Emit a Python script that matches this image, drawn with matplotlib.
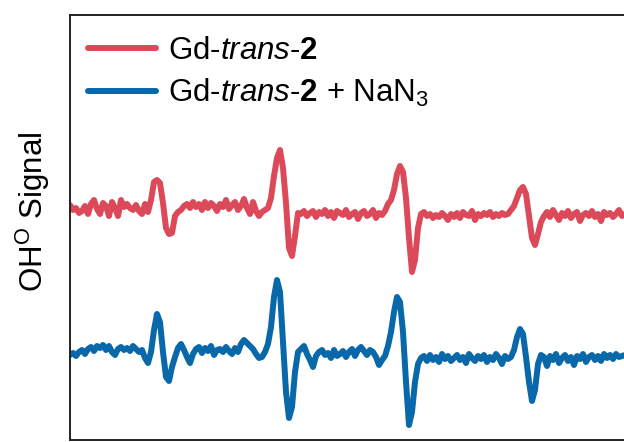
import numpy as np
import matplotlib
matplotlib.use("Agg")
import matplotlib.pyplot as plt

plt.rcParams['font.family'] = ['Liberation Sans', 'DejaVu Sans']
plt.rcParams['mathtext.fontset'] = 'custom'
plt.rcParams['mathtext.rm'] = 'Liberation Sans'
plt.rcParams['mathtext.it'] = 'Liberation Sans:italic'
plt.rcParams['mathtext.bf'] = 'Liberation Sans:bold'

# spin trap spectra, one sample every 3 field steps
field_start = 70
field_step = 3

gd_trans = [
    3, -2, 0, -5, -3, 2, -6, 4, 8, -1,
    -6, 5, 2, -8, 6, 0, -8, 8, 1, 4,
    0, -2, 3, -3, -6, 4, -4, 8, 26, 28,
    25, 5, -20, -26, -25, -8, -4, -2, 2, 4,
    0, 6, 1, 4, -2, 6, 0, 5, 2, -3,
    4, 1, 8, -1, 3, 6, -2, 2, 9, 0,
    -6, 6, -3, -8, -4, -2, 0, 10, 32, 50,
    58, 40, 5, -40, -48, -28, -5, -6, -3, -8,
    -5, -3, -9, -4, -6, -2, -8, -4, -10, -3,
    -5, -7, -2, -9, -6, -4, -11, -5, -3, -8,
    -6, -2, -10, -5, -7, -3, 4, 8, 18, 34,
    42, 36, 10, -30, -64, -52, -20, -6, -4, -8,
    -6, -10, -7, -9, -5, -8, -12, -6, -9, -5,
    -10, -4, -7, -8, -3, -12, -6, -8, -5, -7,
    -4, -9, -6, -8, -5, -7, -6, -2, 2, 10,
    18, 21, 14, -8, -30, -37, -26, -14, -8, -4,
    -9, -2, -7, -12, -5, -8, -3, -10, -6, -4,
    -13, -7, -5, -8, -3, -9, -6, -13, -4, -7,
    -5, -9, -6, -2, -8, -6,
]

gd_trans_nan3 = [
    -3, -1, -4, 0, 2, -2, 3, 5, 1, 6,
    4, 7, 2, 6, 0, -3, 3, 5, 2, 4,
    1, 6, 3, 0, 2, -6, -11, 0, 22, 38,
    30, 0, -25, -29, -15, -5, 4, 8, 2, -5,
    -11, -2, 3, 5, -1, 4, 1, 6, -3, 2,
    3, 0, 5, 1, -2, 4, 0, 8, 12, 9,
    6, 3, -2, -6, -5, 0, 8, 25, 55, 72,
    60, 10, -40, -66, -55, -20, 0, 3, 6, -2,
    -8, -15, -4, 0, 2, -3, -1, -6, 2, -4,
    -2, 1, -5, 0, 3, -4, 2, 5, 1, -3,
    2, 0, -5, -13, -8, -4, 6, 20, 40, 55,
    50, 20, -30, -73, -60, -30, -12, -6, -4, -9,
    -3, -8, -5, -10, -2, -7, -4, -9, -6, -3,
    -8, -5, -11, -2, -6, -9, -4, -7, -3, -10,
    -5, -8, -2, -6, -12, -4, -7, -5, 2, 15,
    23, 18, -5, -30, -49, -38, -12, -3, -5, -14,
    -4, -8, -2, -11, -6, -3, -9, -5, -13, -4,
    -7, -2, -10, -5, -3, -8, -4, -9, -2, -6,
    -3, -7, -2, -5, -4, -3,
]

labels = [r'Gd-$\it{trans}$-$\bf{2}$', r'Gd-$\it{trans}$-$\bf{2}$ + NaN$_3$']
colors = ['#dc4a5a', '#0868aa']
offsets = [144, 0]

fig = plt.figure(figsize=(6.24, 4.42), dpi=100)
ax = fig.add_axes([70 / 624, 2 / 442, 1 - 70 / 624, 425 / 442])

for spec, lab, col, off in zip([gd_trans, gd_trans_nan3], labels, colors, offsets):
    field = field_start + field_step * np.arange(len(spec))
    ax.plot(field, np.array(spec) + off, color=col, lw=4.3, label=lab,
            solid_joinstyle='round', solid_capstyle='round')

ax.set_xlim(70, 624)
ax.set_ylim(-88, 337)
ax.set_xticks([])
ax.set_yticks([])
ax.spines['right'].set_visible(False)
for s in ['left', 'top', 'bottom']:
    ax.spines[s].set_linewidth(1.4)
    ax.spines[s].set_color('#222222')

ax.set_ylabel(r'OH$^{\rm O}$ Signal', fontsize=22.5)
ax.yaxis.set_label_coords(-0.033, 0.536)

ax.legend(loc='upper left', frameon=False, fontsize=22.5, handlelength=2.2,
          handletextpad=0.37, labelspacing=0.36, borderpad=0,
          bbox_to_anchor=(2 / 554, 1 - 5 / 425))

fig.savefig('out.png', dpi=100)
